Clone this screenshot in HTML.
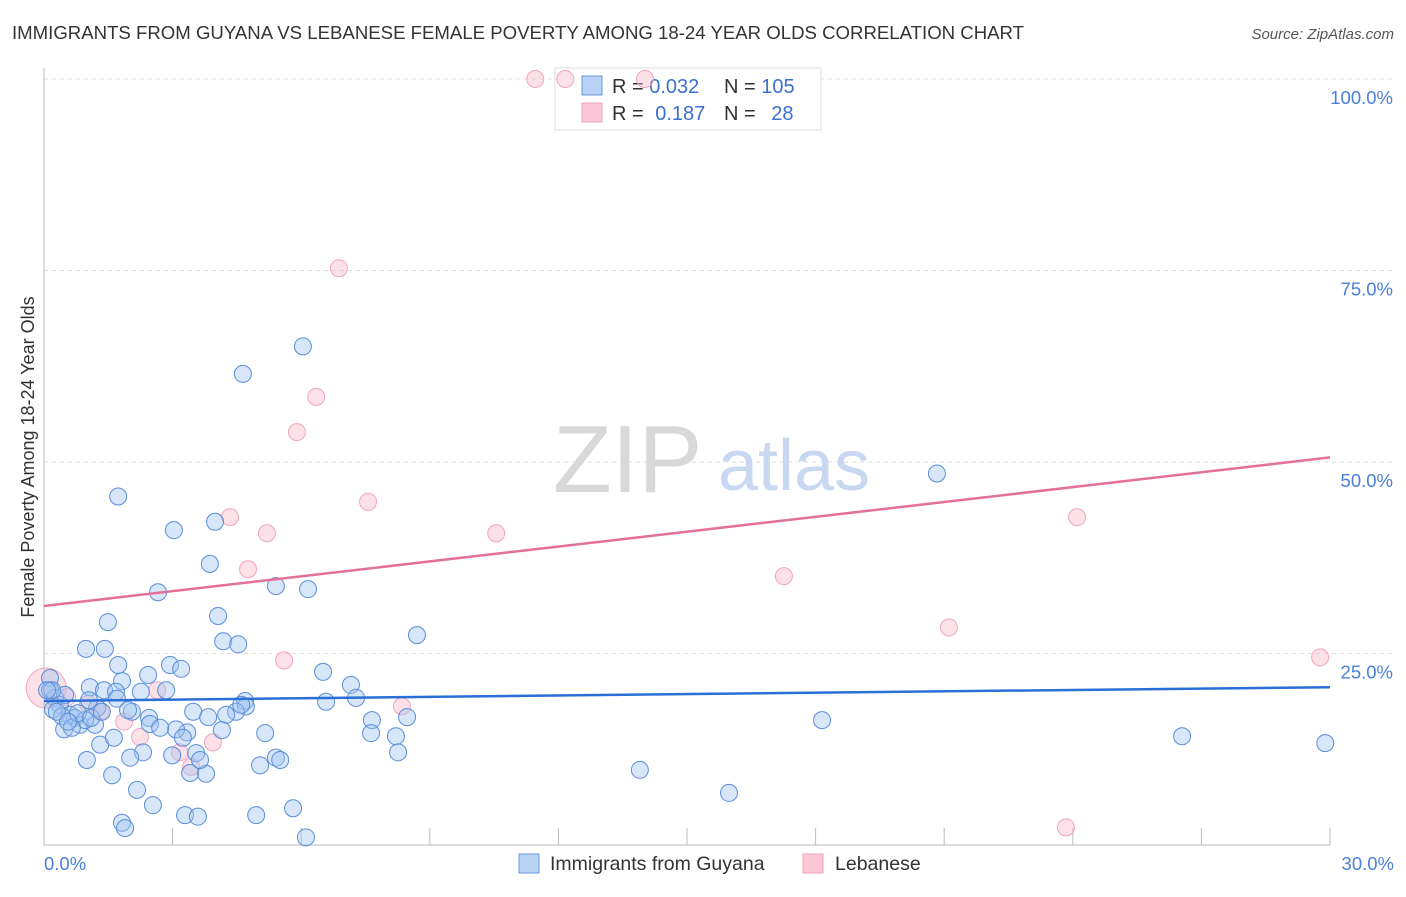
<!DOCTYPE html>
<html><head><meta charset="utf-8">
<style>
body{margin:0;background:#fff;font-family:"Liberation Sans",sans-serif;}
svg text{font-family:"Liberation Sans",sans-serif;}
</style></head>
<body>
<svg id="chart" width="1406" height="892" viewBox="0 0 1406 892" xmlns="http://www.w3.org/2000/svg">
<text x="12" y="39" font-size="18" fill="#333" textLength="1012" lengthAdjust="spacingAndGlyphs">IMMIGRANTS FROM GUYANA VS LEBANESE FEMALE POVERTY AMONG 18-24 YEAR OLDS CORRELATION CHART</text>
<text x="1394" y="39" font-size="15" fill="#555" font-style="italic" text-anchor="end">Source: ZipAtlas.com</text>
<g id="grid"></g>
<g>
<text x="553" y="492" font-size="96" fill="#d8d8d8" font-family="Liberation Serif, serif">ZIP</text>
<text x="718" y="490" font-size="72" fill="#c8d8f0">atlas</text>
</g>
<g>
<rect x="555" y="68" width="266" height="62" fill="#fff" stroke="#ddd"/>
<rect x="582" y="76" width="20" height="19" fill="#b8d2f5" stroke="#6a9ae0"/>
<rect x="582" y="103" width="20" height="19" fill="#fcc8d8" stroke="#f0a0b8"/>
<text x="612" y="93" font-size="20" fill="#333">R = <tspan fill="#3a70d0">0.032</tspan></text>
<text x="724" y="93" font-size="20" fill="#333">N = <tspan fill="#3a70d0">105</tspan></text>
<text x="612" y="120" font-size="20" fill="#333">R = <tspan fill="#3a70d0" dx="6">0.187</tspan></text>
<text x="724" y="120" font-size="20" fill="#333">N = <tspan fill="#3a70d0" dx="10">28</tspan></text>
</g>
<g id="axes"></g>
<g id="pts"></g>
<g id="lines"></g>
<text transform="translate(34,457) rotate(-90)" font-size="18" fill="#333" text-anchor="middle">Female Poverty Among 18-24 Year Olds</text>
<g>
<rect x="519" y="854" width="20" height="19" fill="#b8d2f5" stroke="#6a9ae0"/>
<text x="550" y="870" font-size="19.5" fill="#333">Immigrants from Guyana</text>
<rect x="803" y="854" width="20" height="19" fill="#fcc8d8" stroke="#f0a0b8"/>
<text x="835" y="870" font-size="19.5" fill="#333">Lebanese</text>
</g>
</svg>
<script>
const blueX=[1.73,3.03,3.99,4.64,6.04,20.83,2.66,3.87,1.49,4.06,4.18,4.53,5.41,6.16,8.70,0.98,1.42,1.73,2.43,2.94,3.20,6.51,7.16,1.82,1.07,1.40,1.68,2.26,2.85,4.69,4.71,6.58,7.28,0.14,0.14,0.26,0.37,0.21,0.49,0.61,0.72,0.84,0.47,1.19,0.96,1.24,2.05,2.45,2.47,3.48,3.83,4.48,4.25,4.15,3.34,7.65,7.63,8.47,18.15,3.08,1.31,1.63,2.31,2.01,2.99,3.55,5.16,1.00,1.59,3.41,3.78,5.41,5.04,8.21,8.26,13.90,26.55,29.89,2.17,2.54,1.82,1.89,3.29,3.59,4.95,5.81,6.11,15.98,0.19,0.42,0.65,0.79,1.05,1.70,1.10,0.07,0.30,0.56,1.35,1.96,2.71,3.24,3.64,4.60,5.51];
const blueY=[45.5,41.1,42.2,61.5,65.1,48.5,33.0,36.7,29.1,29.9,26.6,26.2,33.8,33.4,27.4,25.6,25.6,23.5,22.2,23.5,23.0,22.6,20.9,21.4,20.6,20.2,20.0,20.0,20.2,18.8,18.1,18.7,19.2,21.8,20.2,19.2,18.3,17.7,19.6,17.0,16.6,15.7,15.1,15.7,16.3,17.9,17.4,16.6,15.8,17.4,16.7,17.4,17.0,15.0,14.7,16.3,14.6,16.7,16.3,15.1,13.1,14.0,12.1,11.4,11.7,12.0,14.6,11.1,9.1,9.4,9.3,11.4,10.4,14.2,12.1,9.8,14.2,13.3,7.2,5.2,2.9,2.2,3.9,3.7,3.9,4.8,1.0,6.8,20.2,16.8,15.3,17.2,18.9,19.1,16.6,20.2,17.4,16.1,17.4,17.6,15.3,14.0,11.1,18.3,11.1];
const pinkX=[11.46,12.16,14.02,6.88,6.35,5.90,7.56,4.34,5.20,10.55,4.76,17.26,24.10,21.11,5.60,29.77,2.64,0.05,0.54,1.03,8.35,1.31,1.87,2.24,3.17,3.94,3.43,23.84];
const pinkY=[100,100,100,75.3,58.5,53.9,44.8,42.8,40.7,40.7,36.0,35.1,42.8,28.4,24.1,24.5,20.2,20.5,19.3,18.4,18.1,17.4,16.1,14.1,12.1,13.4,10.2,2.3];
const pinkBig=[0,0,0,0,0,0,0,0,0,0,0,0,0,0,0,0,0,1,0,0,0,0,0,0,0,0,0,0];
const yTicks=[25,50,75,100];
const yTickLabels=["25.0%","50.0%","75.0%","100.0%"];
const xTicks=[3,6,9,12,15,18,21,24,27,30];
const blueLine=[18.8,20.6];
const pinkLine=[31.2,50.6];
const NS="http://www.w3.org/2000/svg";
const X0=44,X1=1330,Y0=845,Y1=79;
function sx(v){return X0+(v/30)*(X1-X0);}
function sy(v){return Y0-(v/100)*(Y0-Y1);}
function mk(tag,attrs,parent){const e=document.createElementNS(NS,tag);for(const k in attrs)e.setAttribute(k,attrs[k]);parent.appendChild(e);return e;}
const grid=document.getElementById('grid'),axes=document.getElementById('axes'),pts=document.getElementById('pts'),lines=document.getElementById('lines');
yTicks.forEach((t,i)=>{
 const l=mk('line',{x1:X0,x2:1394,y1:sy(t),y2:sy(t),stroke:'#ddd','stroke-dasharray':'4,4'},grid);
 
 
 const tx=mk('text',{x:1393,y:sy(t)+25,'font-size':18.5,fill:'#4a80d8','text-anchor':'end'},axes);
 tx.textContent=yTickLabels[i];
 
 
});
const ya=mk('line',{x1:X0,x2:X0,y1:68,y2:Y0,stroke:'#bbb'},axes);


const xa=mk('line',{x1:X0,x2:X1,y1:Y0,y2:Y0,stroke:'#bbb'},axes);


xTicks.forEach(t=>{
 const l=mk('line',{x1:sx(t),x2:sx(t),y1:828,y2:Y0,stroke:'#bbb'},axes);
 
 
});
const xl0=mk('text',{x:44,y:870,'font-size':18.5,fill:'#4a80d8'},axes);xl0.textContent='0.0%';


const xl1=mk('text',{x:1394,y:870,'font-size':18.5,fill:'#4a80d8','text-anchor':'end'},axes);xl1.textContent='30.0%';


pinkX.forEach((v,i)=>{
 const c=mk('circle',{cx:sx(v),cy:sy(pinkY[i]),r:pinkBig[i]?20:8.5,fill:'rgba(248,180,200,0.4)',stroke:'#f2a6bd','stroke-width':1},pts);
 
 
});
blueX.forEach((v,i)=>{
 const c=mk('circle',{cx:sx(v),cy:sy(blueY[i]),r:8.5,fill:'rgba(160,196,240,0.42)',stroke:'#5a8fd8','stroke-width':1},pts);
 
 
});
const bl=mk('line',{x1:sx(0),x2:sx(30),y1:sy(blueLine[0]),y2:sy(blueLine[1]),stroke:'#2a6fd6','stroke-width':2.5},lines);


const pl=mk('line',{x1:sx(0),x2:sx(30),y1:sy(pinkLine[0]),y2:sy(pinkLine[1]),stroke:'#e4709a','stroke-width':2.5},lines);


</script>
</body></html>
